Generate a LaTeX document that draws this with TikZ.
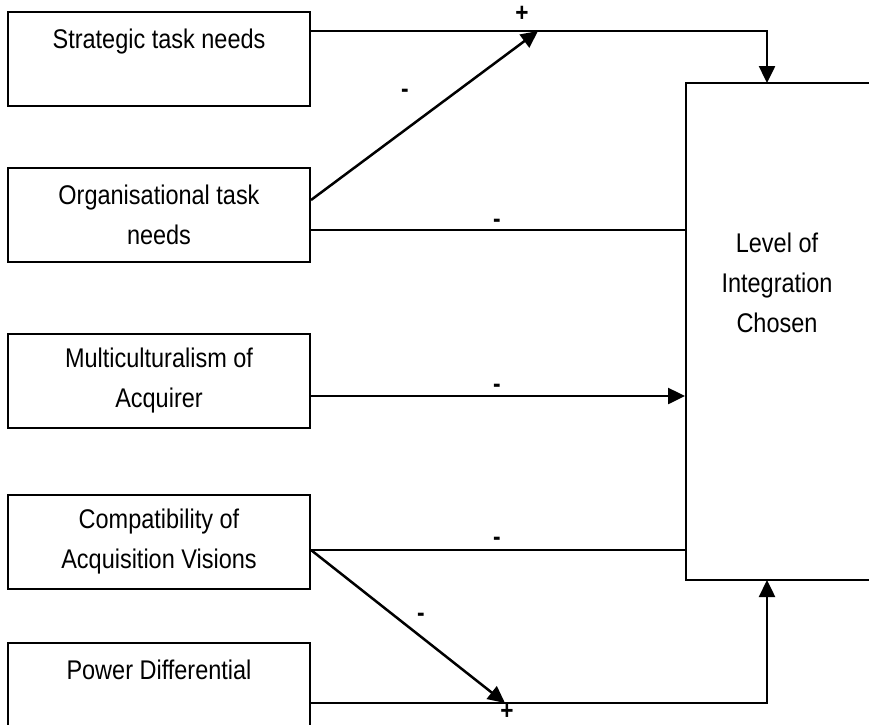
\documentclass[tikz,border=0pt]{standalone}
\usepackage{fontspec}
\setmainfont{Liberation Sans}[FakeStretch=0.87]
\usepackage{tikz}
\usetikzlibrary{arrows.meta, positioning, calc}

\begin{document}
\begin{tikzpicture}[
    x=1pt, y=-1pt,
    factor/.style={rectangle, draw, line width=2pt, minimum width=302pt, minimum height=94pt, inner sep=0pt, align=center, font=\fontsize{27}{40}\selectfont},
    outcome/.style={rectangle, draw, line width=2pt, minimum width=190pt, minimum height=497pt, inner sep=0pt},
    conn/.style={line width=2.5pt},
    arrow/.style={conn, -{Triangle[length=17pt, width=16pt]}},
    sign/.style={font=\fontsize{26}{26}\selectfont\bfseries, inner sep=0pt}
]
    \useasboundingbox (0,0) rectangle (869,724);

    % factors on the left
    \node[factor] (strat) at (159,59) {Strategic task needs\\ \mbox{}};
    \node[factor] (org) at (159,215) {Organisational task\\needs};
    \node[factor] (multi) at (159,381) {Multiculturalism of\\Acquirer};
    \node[factor] (compat) at (159,542) {Compatibility of\\Acquisition Visions};
    \node[factor] (power) at (159,690) {Power Differential\\ \mbox{}};

    % outcome
    \node[outcome] (level) at (781,331.5) {};
    \node[font=\fontsize{27}{40}\selectfont, align=center] (leveltext) at (777,283) {Level of\\Integration\\Chosen};

    \coordinate (intop) at (767,83);
    \coordinate (inbot) at (767,580);
    \coordinate (plusjoin) at (538,31);
    \coordinate (powjoin) at (505,703);
    \coordinate (orgup) at ([yshift=15pt]org.east);
    \coordinate (orgout) at ([yshift=-15pt]org.east);
    \coordinate (multiout) at ([yshift=-15pt]multi.east);
    \coordinate (compatout) at ([yshift=-8pt]compat.east);

    % connectors
    \draw[arrow] (strat.east |- plusjoin) -| (intop);
    \draw[arrow] (orgup) -- (plusjoin);
    \draw[conn] (orgout) -- (level.west |- orgout);
    \draw[arrow] (multiout) -- (level.west |- multiout);
    \draw[conn] (compatout) -- (level.west |- compatout);
    \draw[arrow] (compatout) -- (powjoin);
    \draw[arrow] (power.east |- powjoin) -| (inbot);

    % signs
    \node[sign] (s1) at (522,14) {+};
    \node[sign] (s2) at (405,93) {-};
    \node[sign] (s3) at (497,223) {-};
    \node[sign] (s4) at (497,388) {-};
    \node[sign] (s5) at (497,541) {-};
    \node[sign] (s6) at (421,617) {-};
    \node[sign] (s7) at (507,712) {+};
\end{tikzpicture}
\end{document}
